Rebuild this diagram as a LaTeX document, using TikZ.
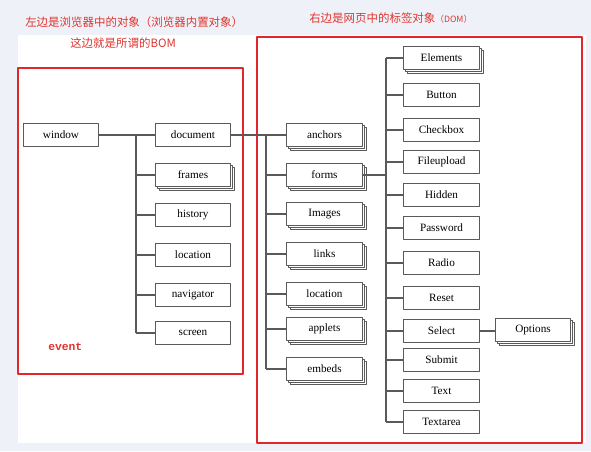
\documentclass[tikz,border=0pt]{standalone}
\usepackage{fontspec}
\setmainfont{Liberation Serif}
\newfontfamily\cjkfont{Noto Sans CJK SC}
\newfontfamily\codefont{Liberation Mono}
\usetikzlibrary{shadows}
\definecolor{pagebg}{HTML}{EEF2F8}
\definecolor{framered}{HTML}{E3262B}
\definecolor{boxline}{HTML}{5A5A5A}
\definecolor{notered}{HTML}{E0342F}

\begin{document}
\begin{tikzpicture}[
  x=0.75pt,
  y=-0.75pt,
  line join=round,
  objbox/.style={draw=boxline,fill=white,line width=0.7pt,minimum width=56.5pt,minimum height=17pt,inner sep=0pt,font=\fontsize{8.4}{9}\selectfont},
  stackbox/.style={objbox,double copy shadow={shadow xshift=1.5pt,shadow yshift=-1.5pt}},
  link/.style={draw=boxline,line width=0.8pt},
  redframe/.style={draw=framered,line width=2pt},
  note/.style={text=notered,font=\cjkfont\fontsize{8.6}{10}\selectfont,inner sep=0pt}
]
  \useasboundingbox (0,0) rectangle (591,451);
  \fill[pagebg] (0,0) rectangle (591,451);
  \fill[white] (18,35) rectangle (586,443);

  % Red notes and frames around the two halves.
  \node[note,anchor=west] (leftnote) at (25,22) {左边是浏览器中的对象（浏览器内置对象）};
  \node[note,anchor=west] (bomnote) at (70,43) {这边就是所谓的BOM};
  \node[note,anchor=west] (domnote) at (309,18) {右边是网页中的标签对象{\fontsize{6.5}{8}\selectfont（DOM）}};
  \draw[redframe] (18,68) rectangle (243,374);
  \draw[redframe] (257,37) rectangle (582,443);
  \node[text=notered,font=\codefont\bfseries\fontsize{8.5}{9}\selectfont,anchor=west,inner sep=0pt] (eventnote) at (48,347) {event};

  % Browser objects (BOM).
  \node[objbox] (window) at (61,135) {window};
  \node[objbox] (document) at (193,135) {document};
  \node[stackbox] (frames) at (193,175) {frames};
  \foreach \n/\txt/\y in {history/history/215,winloc/location/255,navigator/navigator/295,screen/screen/333} {
    \node[objbox] (\n) at (193,\y) {\txt};
  }
  \coordinate (trunkL) at (136,135);
  \draw[link] (window) -- (document);
  \draw[link] (trunkL) -- (screen.west -| trunkL);
  \foreach \n in {frames,history,winloc,navigator,screen} {
    \draw[link] (\n.west) -- (\n.west -| trunkL);
  }

  % Document collections.
  \foreach \n/\txt/\y in {anchors/anchors/135,forms/forms/175,images/Images/214,links/links/254,docloc/location/294,applets/applets/329,embeds/embeds/369} {
    \node[stackbox] (\n) at (324.5,\y) {\txt};
  }
  \coordinate (trunkM) at (266,135);
  \draw[link] (document) -- (anchors);
  \draw[link] (trunkM) -- (embeds.west -| trunkM);
  \foreach \n in {forms,images,links,docloc,applets,embeds} {
    \draw[link] (\n.west) -- (\n.west -| trunkM);
  }

  % Form elements.
  \node[stackbox] (elements) at (441.5,58) {Elements};
  \foreach \n/\txt/\y in {button/Button/95,checkbox/Checkbox/130,fileupload/Fileupload/162,hidden/Hidden/195,password/Password/228,radio/Radio/263,reset/Reset/298,select/Select/331,submit/Submit/360,text/Text/391,textarea/Textarea/422} {
    \node[objbox] (\n) at (441.5,\y) {\txt};
  }
  \coordinate (trunkR) at (386,58);
  \draw[link] (trunkR) -- (textarea.west -| trunkR);
  \draw[link] (forms.east) -- (forms.east -| trunkR);
  \foreach \n in {elements,button,checkbox,fileupload,hidden,password,radio,reset,select,submit,text,textarea} {
    \draw[link] (\n.west) -- (\n.west -| trunkR);
  }
  \node[stackbox] (options) at (533,330) {Options};
  \draw[link] (select.east) -- (select.east -| options.west);
\end{tikzpicture}
\end{document}
